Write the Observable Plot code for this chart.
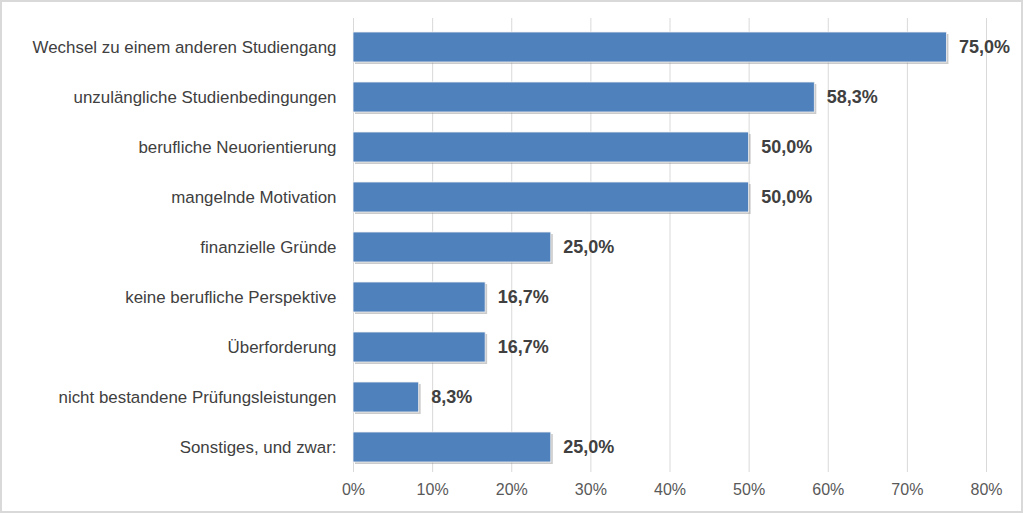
<!DOCTYPE html>
<html>
<head>
<meta charset="utf-8">
<script src="https://cdn.jsdelivr.net/npm/d3@7"></script>
<script src="https://cdn.jsdelivr.net/npm/@observablehq/plot@0.6"></script>
<style>
  html, body { margin: 0; padding: 0; background: #fff; }
  #chart svg { display: block; outline: 2px solid #d9d9d9; outline-offset: -2px; }
</style>
</head>
<body>
<div id="chart"></div>
<script>
const categories = [
  "Wechsel zu einem anderen Studiengang",
  "unzulängliche Studienbedingungen",
  "berufliche Neuorientierung",
  "mangelnde Motivation",
  "finanzielle Gründe",
  "keine berufliche Perspektive",
  "Überforderung",
  "nicht bestandene Prüfungsleistungen",
  "Sonstiges, und zwar:"
];
const values = [75.0, 58.3, 50.0, 50.0, 25.0, 16.7, 16.7, 8.3, 25.0];
const xTicks = [0, 10, 20, 30, 40, 50, 60, 70, 80];

const data = categories.map((c, i) => ({category: c, value: values[i]}));
const fmt = v => v.toFixed(1).replace(".", ",") + "%";

const chart = Plot.plot({
  width: 1023,
  height: 513,
  marginLeft: 353,
  marginRight: 37,
  marginTop: 22,
  marginBottom: 41,
  style: {fontFamily: "'Liberation Sans', Arial, sans-serif", background: "#fff"},
  x: {domain: [0, 80], ticks: xTicks, tickFormat: d => d + "%", label: null},
  y: {domain: categories, paddingInner: 0.4, paddingOuter: 0.2, label: null},
  marks: [
    Plot.gridX(xTicks, {stroke: "#d9d9d9", strokeOpacity: 1, insetTop: -4}),
    Plot.axisX(xTicks, {tickSize: 0, tickPadding: 11, fontSize: 16, fill: "#595959", tickFormat: d => d + "%", label: null}),
    Plot.axisY({tickSize: 0, tickPadding: 17, fontSize: 16.9, fill: "#404040", label: null}),
    Plot.barX(data, {x: "value", y: "category", fill: "#8c8c8c", fillOpacity: 0.45, dx: 2, dy: 2}),
    Plot.barX(data, {x: "value", y: "category", fill: "#4f81bd", stroke: "#f2f2f2", strokeWidth: 0.8}),
    Plot.text(data, {x: "value", y: "category", text: d => fmt(d.value), textAnchor: "start", dx: 12, fontSize: 18, fontWeight: "bold", fill: "#404040"})
  ]
});
document.getElementById("chart").appendChild(chart);
</script>
</body>
</html>
